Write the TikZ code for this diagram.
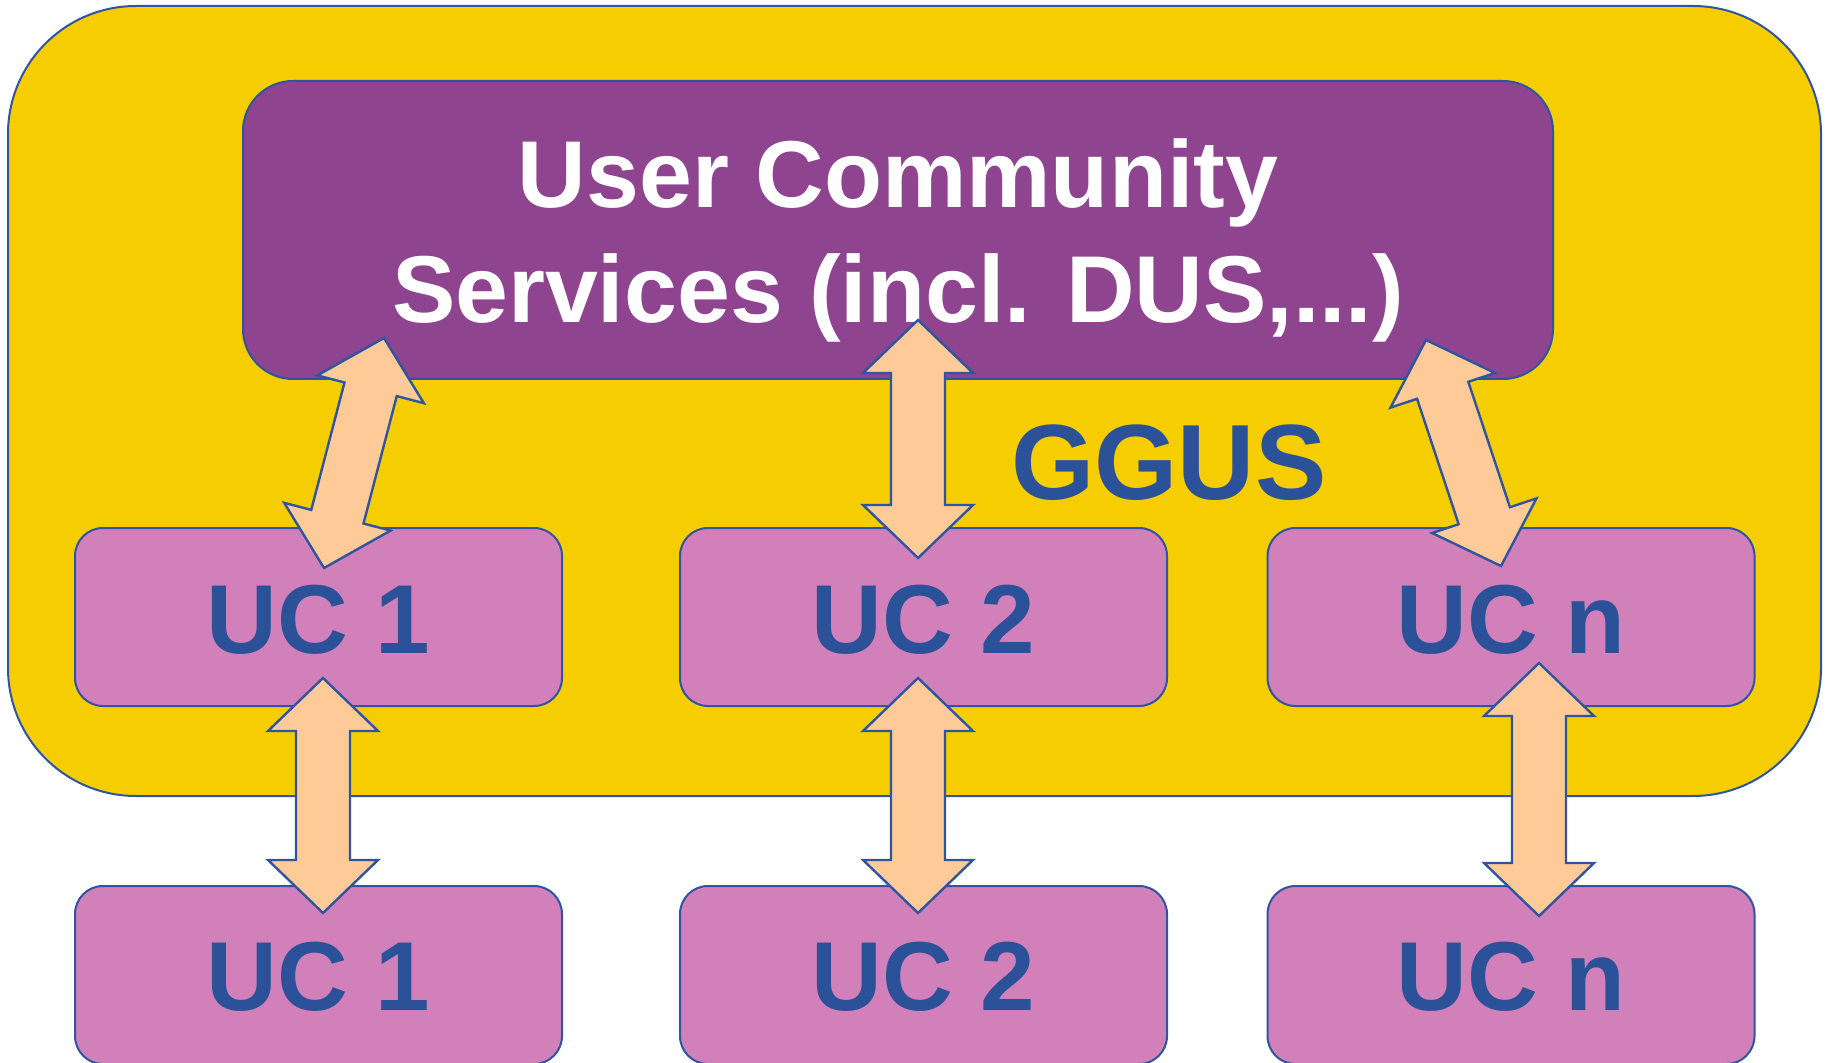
\documentclass[tikz,border=0pt]{standalone}
\usepackage{fontspec}
\setmainfont{Liberation Sans}
\usetikzlibrary{calc}
\definecolor{olblue}{HTML}{2F55A0}
\definecolor{txtblue}{HTML}{2B5198}
\definecolor{ylw}{HTML}{F5CD00}
\definecolor{prp}{HTML}{8E448E}
\definecolor{pnk}{HTML}{D280BA}
\definecolor{pch}{HTML}{FECA98}
\tikzset{
  outerbox/.style={draw=olblue, line width=1pt, fill=ylw, rounded corners=64pt, minimum width=906.5pt, minimum height=395pt, inner sep=0pt},
  svcbox/.style={draw=olblue, line width=1pt, fill=prp, rounded corners=25pt, minimum width=655pt, minimum height=149pt, inner sep=0pt},
  ucbox/.style={draw=olblue, line width=1pt, fill=pnk, rounded corners=14pt, minimum width=243.5pt, minimum height=89pt, inner sep=0pt},
  titletxt/.style={text=white, font=\fontsize{47.5}{57}\selectfont\bfseries, anchor=base, inner sep=0pt},
  uctxt/.style={text=txtblue, font=\fontsize{49}{58}\selectfont\bfseries, anchor=base, inner sep=0pt},
  ggustxt/.style={text=txtblue, font=\fontsize{53.5}{64}\selectfont\bfseries, anchor=base, inner sep=0pt},
  dblarrow/.style={draw=olblue, line width=1.2pt, fill=pch, line join=miter}
}
\newcommand\dblarr[2]{%
  \path ($(#1)!26.5pt!(#2)$) coordinate (ha) ($(#2)!26.5pt!(#1)$) coordinate (hb);
  \draw[dblarrow] (#1) -- ($(ha)!27.5pt!90:(#2)$) -- ($(ha)!13.5pt!90:(#2)$)
    -- ($(hb)!13.5pt!-90:(#1)$) -- ($(hb)!27.5pt!-90:(#1)$) -- (#2)
    -- ($(hb)!27.5pt!90:(#1)$) -- ($(hb)!13.5pt!90:(#1)$)
    -- ($(ha)!13.5pt!-90:(#2)$) -- ($(ha)!27.5pt!-90:(#2)$) -- cycle;}
\begin{document}
\begin{tikzpicture}[x=0.5pt, y=-0.5pt]
\useasboundingbox (0,0) rectangle (1829,1063);
\node[outerbox] (outer) at (914.5,401) {};
\node[svcbox] (svc) at (898,230) {};
\node[titletxt] (t1) at (898,208) {User Community};
\node[titletxt] (t2) at (898,323) {Services (incl. DUS,...)};
\node[ggustxt] (ggus) at (1169,499) {GGUS};
\node[ucbox] (uca) at (318.5,617) {};
\node[ucbox] (ucb) at (923.5,617) {};
\node[ucbox] (ucc) at (1511,617) {};
\node[ucbox] (lca) at (318.5,975) {};
\node[ucbox] (lcb) at (923.5,975) {};
\node[ucbox] (lcc) at (1511,975) {};
\node[uctxt] at (318.5,653) {UC 1};
\node[uctxt] at (923.5,653) {UC 2};
\node[uctxt] at (1511,653) {UC n};
\node[uctxt] at (318.5,1010) {UC 1};
\node[uctxt] at (923.5,1010) {UC 2};
\node[uctxt] at (1511,1010) {UC n};
\coordinate (p1) at (384,338); \coordinate (q1) at (324,568);
\coordinate (p2) at (918,320); \coordinate (q2) at (918,558);
\coordinate (p3) at (1426,340); \coordinate (q3) at (1501,566);
\coordinate (r1) at (323,678); \coordinate (s1) at (323,913);
\coordinate (r2) at (918,678); \coordinate (s2) at (918,913);
\coordinate (r3) at (1539,663); \coordinate (s3) at (1539,916);
\dblarr{p1}{q1}
\dblarr{p2}{q2}
\dblarr{p3}{q3}
\dblarr{r1}{s1}
\dblarr{r2}{s2}
\dblarr{r3}{s3}
\end{tikzpicture}
\end{document}
